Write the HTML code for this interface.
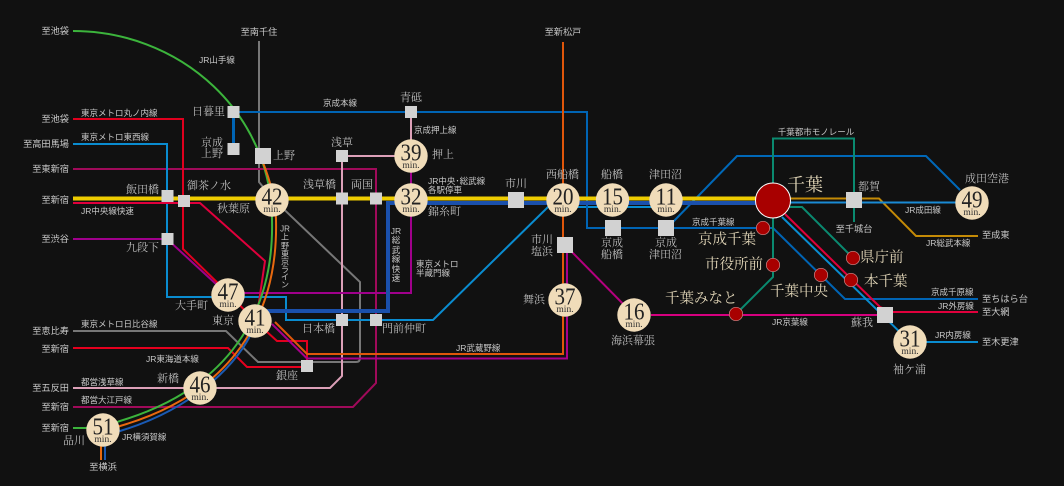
<!DOCTYPE html>
<html><head><meta charset="utf-8"><style>
html,body{margin:0;padding:0;background:#111;width:1064px;height:486px;overflow:hidden}
svg{display:block}
text{font-family:"Liberation Sans","Noto Sans CJK JP",sans-serif;font-size:8.500px;fill:#c8c8c8;dominant-baseline:central}
.d{font-size:9.200px}
.v{font-size:8px}
.s{font-family:"Liberation Serif","Noto Serif CJK JP",serif;font-size:11px;fill:#bdbdbd}
.g{font-family:"Liberation Serif","Noto Serif CJK JP",serif;font-size:14.500px;fill:#e2d6b8}
.e{text-anchor:end}.m{text-anchor:middle}
.n{font-family:"Liberation Serif",serif;font-size:24px;fill:#222;text-anchor:middle;dominant-baseline:auto}
.t{font-family:"Liberation Serif",serif;font-size:9.500px;fill:#333;text-anchor:middle;dominant-baseline:auto}
.l path{fill:none;stroke-linejoin:miter;stroke-width:2}
.q rect{fill:#d2d2d2}
.c circle{fill:#f0dcb9}
.r circle{fill:#a80000;stroke:#c98a8a;stroke-width:.7}
</style></head><body>
<svg width="1064" height="486" viewBox="0 0 1064 486" xmlns="http://www.w3.org/2000/svg">
<rect width="1064" height="486" fill="#111"/>
<g class="l">
<path d="M259 41V182L272 198L360 282V358Q360 362 356 362H258L226 331H73" stroke="#777"/>
<path d="M73 169H376V383L353 407H73" stroke="#a00a5a"/>
<path d="M342 156V376L330 388H73" stroke="#dca0b8"/>
<path d="M342 156H411M411 112V190" stroke="#dca0b8"/>
<path d="M73 239H167L229 296M229 293H411V170" stroke="#a0008c"/>
<path d="M73 119H183V249L228 293L255 321L277 341H307V367" stroke="#e0001e"/>
<path d="M73 144H167V297H286V320H433L548 207H666" stroke="#0a8cd0"/>
<path d="M233 112H587V228H763H773L845 299H978" stroke="#0064b4"/>
<path d="M233.500 112V149" stroke="#0064b4" style="stroke-width:3"/>
<path d="M673 222L737 156H926L960 190" stroke="#0068b8"/>
<path d="M563 42V354H307L275 322" stroke="#e0560a"/>
<path d="M567 250V358.500H307L272 324" stroke="#a8008a"/>
<path d="M565 245L634 315" stroke="#b4007e"/>
<path d="M651 315H885" stroke="#d6007f"/>
<path d="M73 348H228L247 367H307" stroke="#e6001e"/>
<path d="M73 203H200L265 261L256 322" stroke="#e0003c"/>
<path d="M854 222V138.500H773V277L736 314" stroke="#0a8a70"/>
<path d="M790 207H802L853 258" stroke="#0a8a70"/>
<path d="M790 198.500H879L916 236H978" stroke="#c48a06"/>
<path d="M790 202.500H960" stroke="#1a8ad4"/>
<path d="M785 214L880 307L893 312H978" stroke="#e0003c"/>
<path d="M782 217L910 342H978" stroke="#0a8cd0"/>
<path d="M73 31A199 189 0 0 1 272 220C274 300 240 385 120 421L103 428H73" stroke="#3cb43c"/>
<path d="M262 160C270 180 276 200 276 220C278 302 244 390 120 426L101 434V460" stroke="#e8690f"/>
<path d="M255 325C240 365 190 410 120 431L105 436V460" stroke="#1a5ab4"/>
<path d="M73 198.500H770" stroke="#eecc00" style="stroke-width:4"/>
<path d="M267 311H388V203H770" stroke="#1a50ac" style="stroke-width:4"/>
</g>
<g class="q">
<rect x="227.500" y="106" width="12" height="12"/><rect x="227.500" y="143" width="12" height="12"/>
<rect x="255" y="148" width="16" height="16"/><rect x="336" y="150" width="12" height="12"/>
<rect x="336" y="192.500" width="12" height="12"/><rect x="370" y="192.500" width="12" height="12"/>
<rect x="161.500" y="190" width="12" height="12"/><rect x="178" y="195" width="12" height="12"/>
<rect x="161.500" y="233" width="12" height="12"/><rect x="336" y="314" width="12" height="12"/>
<rect x="370" y="314" width="12" height="12"/><rect x="301" y="360" width="12" height="12"/>
<rect x="405" y="106" width="12" height="12"/><rect x="508" y="192" width="16" height="16"/>
<rect x="557" y="237" width="16" height="16"/><rect x="605" y="220" width="16" height="16"/>
<rect x="658" y="220" width="16" height="16"/><rect x="846" y="192" width="16" height="16"/>
<rect x="877" y="307" width="16" height="16"/>
</g>
<g class="c">
<circle cx="272" cy="200" r="16.700"/><circle cx="411" cy="156" r="16.700"/><circle cx="411" cy="200" r="16.700"/>
<circle cx="563" cy="200" r="16.700"/><circle cx="612.500" cy="200" r="16.700"/><circle cx="666" cy="200" r="16.700"/>
<circle cx="228" cy="295" r="16.700"/><circle cx="255" cy="321" r="16.700"/><circle cx="200" cy="388" r="16.700"/>
<circle cx="103" cy="430" r="16.700"/><circle cx="565" cy="300" r="16.700"/><circle cx="634" cy="315" r="16.700"/>
<circle cx="972" cy="203" r="16.700"/><circle cx="910" cy="342" r="16.700"/>
</g>
<g>
<text class="n" x="272" y="204.500" textLength="21" lengthAdjust="spacingAndGlyphs">42</text><text class="t" x="272" y="212">min.</text>
<text class="n" x="411" y="160.500" textLength="21" lengthAdjust="spacingAndGlyphs">39</text><text class="t" x="411" y="168">min.</text>
<text class="n" x="411" y="204.500" textLength="21" lengthAdjust="spacingAndGlyphs">32</text><text class="t" x="411" y="212">min.</text>
<text class="n" x="563" y="204.500" textLength="21" lengthAdjust="spacingAndGlyphs">20</text><text class="t" x="563" y="212">min.</text>
<text class="n" x="612.500" y="204.500" textLength="21" lengthAdjust="spacingAndGlyphs">15</text><text class="t" x="612.500" y="212">min.</text>
<text class="n" x="666" y="204.500" textLength="21" lengthAdjust="spacingAndGlyphs">11</text><text class="t" x="666" y="212">min.</text>
<text class="n" x="228" y="299.500" textLength="21" lengthAdjust="spacingAndGlyphs">47</text><text class="t" x="228" y="307">min.</text>
<text class="n" x="255" y="325.500" textLength="21" lengthAdjust="spacingAndGlyphs">41</text><text class="t" x="255" y="333">min.</text>
<text class="n" x="200" y="392.500" textLength="21" lengthAdjust="spacingAndGlyphs">46</text><text class="t" x="200" y="400">min.</text>
<text class="n" x="103" y="434.500" textLength="21" lengthAdjust="spacingAndGlyphs">51</text><text class="t" x="103" y="442">min.</text>
<text class="n" x="565" y="304.500" textLength="21" lengthAdjust="spacingAndGlyphs">37</text><text class="t" x="565" y="312">min.</text>
<text class="n" x="634" y="319.500" textLength="21" lengthAdjust="spacingAndGlyphs">16</text><text class="t" x="634" y="327">min.</text>
<text class="n" x="972" y="207.500" textLength="21" lengthAdjust="spacingAndGlyphs">49</text><text class="t" x="972" y="215">min.</text>
<text class="n" x="910" y="346.500" textLength="21" lengthAdjust="spacingAndGlyphs">31</text><text class="t" x="910" y="354">min.</text>
</g>
<g class="r">
<circle cx="773" cy="200.500" r="17.500" style="stroke:#fff;stroke-width:1"/>
<circle cx="763" cy="228" r="6.700"/><circle cx="773" cy="265" r="6.700"/><circle cx="736" cy="314" r="6.700"/>
<circle cx="821" cy="275" r="6.700"/><circle cx="851" cy="280" r="6.700"/><circle cx="853" cy="258" r="6.700"/>
</g>
<g>
<text class="e d" x="69" y="31">至池袋</text><text class="e d" x="69" y="119">至池袋</text>
<text class="e d" x="69" y="144">至高田馬場</text><text class="e d" x="69" y="169">至東新宿</text>
<text class="e d" x="69" y="200">至新宿</text><text class="e d" x="69" y="239">至渋谷</text>
<text class="e d" x="69" y="331">至恵比寿</text><text class="e d" x="69" y="349">至新宿</text>
<text class="e d" x="69" y="388">至五反田</text><text class="e d" x="69" y="407">至新宿</text>
<text class="e d" x="69" y="428">至新宿</text>
<text class="m d" x="259" y="32">至南千住</text><text class="m d" x="563" y="32">至新松戸</text>
<text class="m d" x="103" y="467">至横浜</text>
<text x="199" y="60">JR山手線</text><text x="323" y="103">京成本線</text>
<text x="81" y="113">東京メトロ丸ノ内線</text><text x="81" y="137">東京メトロ東西線</text>
<text x="81" y="211">JR中央線快速</text><text x="81" y="324">東京メトロ日比谷線</text>
<text x="146" y="359">JR東海道本線</text><text x="81" y="382">都営浅草線</text>
<text x="81" y="400">都営大江戸線</text><text x="122" y="437">JR横須賀線</text>
<text x="414" y="130">京成押上線</text>
<text x="428" y="181">JR中央･総武線</text><text x="428" y="190">各駅停車</text>
<text x="416" y="264">東京メトロ</text><text x="416" y="273">半蔵門線</text>
<text x="456" y="348">JR武蔵野線</text><text class="m" x="790" y="322">JR京葉線</text>
<text class="m" x="816" y="132">千葉都市モノレール</text><text class="m d" x="854" y="229">至千城台</text>
<text x="905" y="210">JR成田線</text><text x="926" y="243">JR総武本線</text>
<text class="d" x="982" y="235">至成東</text><text x="931" y="292">京成千原線</text>
<text class="d" x="982" y="299">至ちはら台</text><text x="938" y="306">JR外房線</text>
<text class="d" x="982" y="312">至大網</text><text x="935" y="335">JR内房線</text>
<text class="d" x="982" y="342">至木更津</text><text x="692" y="222">京成千葉線</text>
<text class="m v" x="285" y="229">JR</text><text class="m v" x="285" y="237">上</text><text class="m v" x="285" y="246">野</text><text class="m v" x="285" y="254">東</text><text class="m v" x="285" y="262">京</text><text class="m v" x="285" y="270">ラ</text><text class="m v" x="285" y="277">イ</text><text class="m v" x="285" y="285">ン</text>
<text class="m" x="396" y="231">JR</text><text class="m" x="396" y="240">総</text><text class="m" x="396" y="250">武</text><text class="m" x="396" y="259">線</text><text class="m" x="396" y="269">快</text><text class="m" x="396" y="278">速</text>
</g>
<g>
<text class="s" x="192" y="112">日暮里</text><text class="s" x="201" y="143">京成</text><text class="s" x="201" y="154">上野</text>
<text class="s" x="273" y="156">上野</text><text class="s" x="331" y="143">浅草</text><text class="s" x="303" y="185">浅草橋</text>
<text class="s" x="351" y="185">両国</text><text class="s" x="126" y="190">飯田橋</text><text class="s" x="187" y="186">御茶ノ水</text>
<text class="s" x="217" y="209">秋葉原</text><text class="s" x="126" y="248">九段下</text><text class="s" x="175" y="306">大手町</text>
<text class="s" x="212" y="321">東京</text><text class="s" x="302" y="329">日本橋</text><text class="s" x="382" y="329">門前仲町</text>
<text class="s" x="276" y="376">銀座</text><text class="s" x="157" y="379">新橋</text><text class="s" x="63" y="441">品川</text>
<text class="s" x="400" y="98">青砥</text><text class="s" x="432" y="155">押上</text><text class="s" x="428" y="212">錦糸町</text>
<text class="s" x="505" y="184">市川</text><text class="s" x="546" y="175">西船橋</text><text class="s" x="601" y="175">船橋</text>
<text class="s" x="649" y="175">津田沼</text><text class="s" x="601" y="243">京成</text><text class="s" x="601" y="255">船橋</text>
<text class="s" x="655" y="243">京成</text><text class="s" x="649" y="255">津田沼</text><text class="s" x="531" y="240">市川</text>
<text class="s" x="531" y="252">塩浜</text><text class="s" x="523" y="300">舞浜</text><text class="s" x="611" y="341">海浜幕張</text>
<text class="s" x="858" y="187">都賀</text><text class="s" x="965" y="179">成田空港</text><text class="s" x="851" y="323">蘇我</text>
<text class="s" x="893" y="370">袖ケ浦</text>
<text class="g" x="665" y="299">千葉みなと</text><text class="g" x="698" y="240">京成千葉</text><text class="g" x="705" y="265">市役所前</text>
<text class="g" x="770" y="292">千葉中央</text><text class="g" x="864" y="282">本千葉</text><text class="g" x="860" y="258">県庁前</text>
<text class="g" x="787" y="185" style="font-size:18px">千葉</text>
</g>
</svg>
</body></html>
